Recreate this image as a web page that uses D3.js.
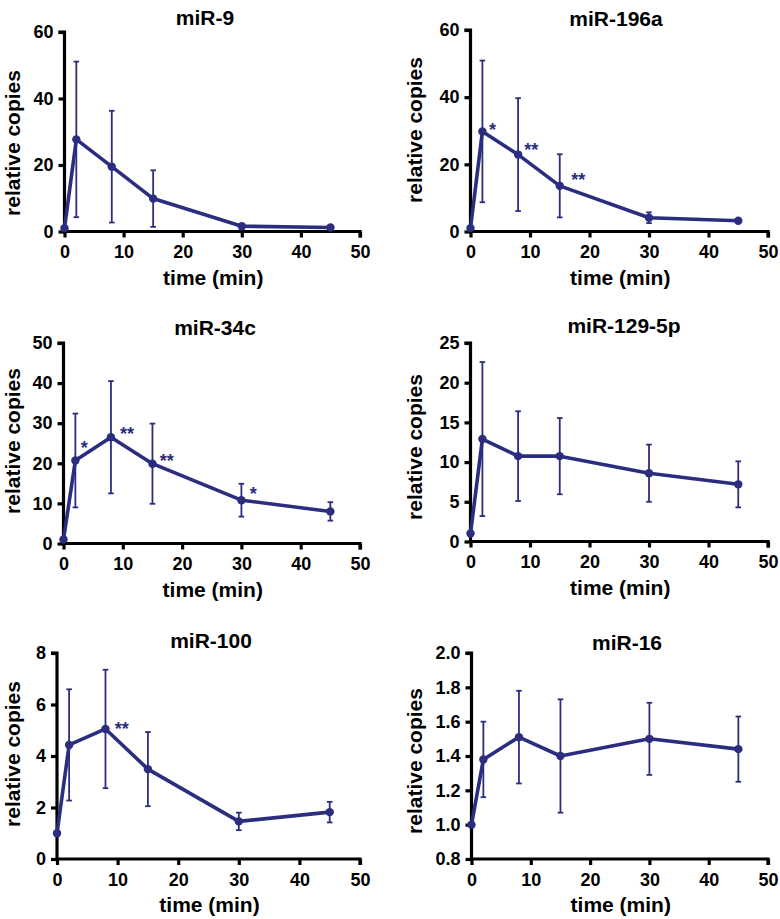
<!DOCTYPE html>
<html>
<head>
<meta charset="utf-8">
<script src="https://cdn.jsdelivr.net/npm/d3@7"></script>
<style>
  html, body { margin: 0; padding: 0; background: #fff; }
  svg { display: block; font-family: "Liberation Sans", Arial, Helvetica, sans-serif; }
</style>
</head>
<body>
<svg id="chart" width="780" height="919"></svg>
<script>
// ---- data ----
const times = [0, 2, 8, 15, 30, 45];
const xTicks = [0, 10, 20, 30, 40, 50];

const titles = ["miR-9", "miR-196a", "miR-34c", "miR-129-5p", "miR-100", "miR-16"];

const mir9Mean   = [1, 27.7, 19.5, 9.9, 1.6, 1.2];
const mir9Err    = [0, 23.4, 16.8, 8.5, 0.3, 0.3];
const mir196aMean = [1, 29.8, 22.9, 13.6, 4.1, 3.2];
const mir196aErr  = [0, 21.1, 16.8, 9.4, 1.6, 0.3];
const mir34cMean = [1, 20.7, 26.5, 19.9, 10.8, 8.0];
const mir34cErr  = [0, 11.7, 14.0, 10.0, 4.1, 2.3];
const mir129Mean = [1, 12.9, 10.75, 10.75, 8.6, 7.2];
const mir129Err  = [0, 9.7, 5.65, 4.8, 3.6, 2.9];
const mir100Mean = [1, 4.43, 5.05, 3.49, 1.46, 1.82];
const mir100Err  = [0, 2.16, 2.3, 1.44, 0.34, 0.4];
const mir16Mean  = [1, 1.38, 1.51, 1.40, 1.50, 1.44];
const mir16Err   = [0, 0.22, 0.27, 0.33, 0.21, 0.19];

const yDomains = [[0, 60], [0, 60], [0, 50], [0, 25], [0, 8], [0.8, 2.0]];
const yTicks = [
  [0, 20, 40, 60],
  [0, 20, 40, 60],
  [0, 10, 20, 30, 40, 50],
  [0, 5, 10, 15, 20, 25],
  [0, 2, 4, 6, 8],
  [0.8, 1.0, 1.2, 1.4, 1.6, 1.8, 2.0]
];
const yTickFormats = ["d", "d", "d", "d", "d", ".1f"];

// significance marks: [time, value, label]
const mir196aStars = [[3.7, 31.5, "*"], [10.2, 25.6, "**"], [18.1, 16.5, "**"]];
const mir34cStars  = [[3.5, 24.9, "*"], [10.7, 28.2, "**"], [17.4, 21.6, "**"], [32.0, 13.3, "*"]];
const mir100Stars  = [[10.7, 5.19, "**"]];

const means = [mir9Mean, mir196aMean, mir34cMean, mir129Mean, mir100Mean, mir16Mean];
const errs  = [mir9Err, mir196aErr, mir34cErr, mir129Err, mir100Err, mir16Err];
const stars = [[], mir196aStars, mir34cStars, [], mir100Stars, []];

// ---- layout (pixel geometry of each panel) ----
const layout = [
  { x0: 64.5, x1: 360, yTop: 32,  yBot: 231.5, ylabX: 20,  ylabY: 143, titleX: 205, titleY: 25 },
  { x0: 470.5, x1: 768, yTop: 30,  yBot: 231.5, ylabX: 422, ylabY: 130, titleX: 616, titleY: 26 },
  { x0: 63.5, x1: 360, yTop: 343, yBot: 543.5, ylabX: 20,  ylabY: 441, titleX: 215, titleY: 335 },
  { x0: 470.5, x1: 768, yTop: 343, yBot: 541.5, ylabX: 422, ylabY: 447, titleX: 624, titleY: 333 },
  { x0: 57,   x1: 360, yTop: 653, yBot: 859,   ylabX: 20,  ylabY: 754, titleX: 211, titleY: 648 },
  { x0: 471.5, x1: 768, yTop: 653, yBot: 859,   ylabX: 422, ylabY: 761, titleX: 627, titleY: 650 }
];

const navy = "#2b2e7e";
const svg = d3.select("#chart");

titles.forEach((title, i) => {
  const L = layout[i];
  const x = d3.scaleLinear().domain([0, 50]).range([L.x0, L.x1]);
  const y = d3.scaleLinear().domain(yDomains[i]).range([L.yBot, L.yTop]);
  const g = svg.append("g");

  // axes
  const xAxis = d3.axisBottom(x).tickValues(xTicks).tickFormat(d3.format("d")).tickSizeOuter(0).tickSize(6).tickPadding(8);
  const yAxis = d3.axisLeft(y).tickValues(yTicks[i]).tickFormat(d3.format(yTickFormats[i])).tickSizeOuter(0).tickSize(6).tickPadding(5);

  const gx = g.append("g").attr("transform", `translate(0,${L.yBot})`).call(xAxis);
  const gy = g.append("g").attr("transform", `translate(${L.x0},0)`).call(yAxis);
  [gx, gy].forEach(a => {
    a.select(".domain").attr("stroke", "#000").attr("stroke-width", 3.2);
    a.selectAll(".tick line").attr("stroke", "#000").attr("stroke-width", 3.2);
    a.selectAll(".tick text").attr("fill", "#000").style("font-size", "18px").style("font-weight", "bold");
  });
  // extend domain lines to cover the corner
  gx.select(".domain").attr("d", `M${L.x0 - 1.6},0H${L.x1}V6`);
  gy.select(".domain").attr("d", `M-6,${L.yTop}H0V${L.yBot + 1.6}`);

  // title
  g.append("text")
    .attr("x", L.titleX)
    .attr("y", L.titleY)
    .attr("text-anchor", "middle")
    .style("font-size", "21px").style("font-weight", "bold")
    .text(title);

  // x label
  g.append("text")
    .attr("x", (L.x0 + L.x1) / 2 + 1)
    .attr("y", L.yBot + 53)
    .attr("text-anchor", "middle")
    .style("font-size", "21px").style("font-weight", "bold")
    .text("time (min)");

  // y label
  g.append("text")
    .attr("transform", `translate(${L.ylabX},${L.ylabY}) rotate(-90)`)
    .attr("text-anchor", "middle")
    .style("font-size", "21px").style("font-weight", "bold")
    .text("relative copies");

  const pts = times.map((t, j) => ({ t, m: means[i][j], e: errs[i][j] }));

  // error bars
  const eb = g.append("g").attr("stroke", navy).attr("stroke-width", 1.8).attr("fill", "none");
  pts.filter(d => d.e > 0).forEach(d => {
    const cx = x(d.t);
    eb.append("line").attr("x1", cx).attr("x2", cx).attr("y1", y(d.m + d.e)).attr("y2", y(d.m - d.e));
    eb.append("line").attr("x1", cx - 2.8).attr("x2", cx + 2.8).attr("y1", y(d.m + d.e)).attr("y2", y(d.m + d.e));
    eb.append("line").attr("x1", cx - 2.8).attr("x2", cx + 2.8).attr("y1", y(d.m - d.e)).attr("y2", y(d.m - d.e));
  });

  // line
  g.append("path").datum(pts)
    .attr("fill", "none").attr("stroke", navy).attr("stroke-width", 3.6).attr("stroke-linejoin", "round")
    .attr("d", d3.line().x(d => x(d.t)).y(d => y(d.m)));

  // points
  g.selectAll("circle.pt").data(pts).enter().append("circle")
    .attr("class", "pt")
    .attr("cx", d => x(d.t)).attr("cy", d => y(d.m)).attr("r", 4.2).attr("fill", navy);

  // stars
  g.selectAll("text.star").data(stars[i]).enter().append("text")
    .attr("class", "star")
    .attr("x", d => x(d[0])).attr("y", d => y(d[1]) + 10)
    .attr("text-anchor", "middle")
    .attr("fill", navy)
    .style("font-size", "18px").style("font-weight", "bold")
    .text(d => d[2]);
});
</script>
</body>
</html>
